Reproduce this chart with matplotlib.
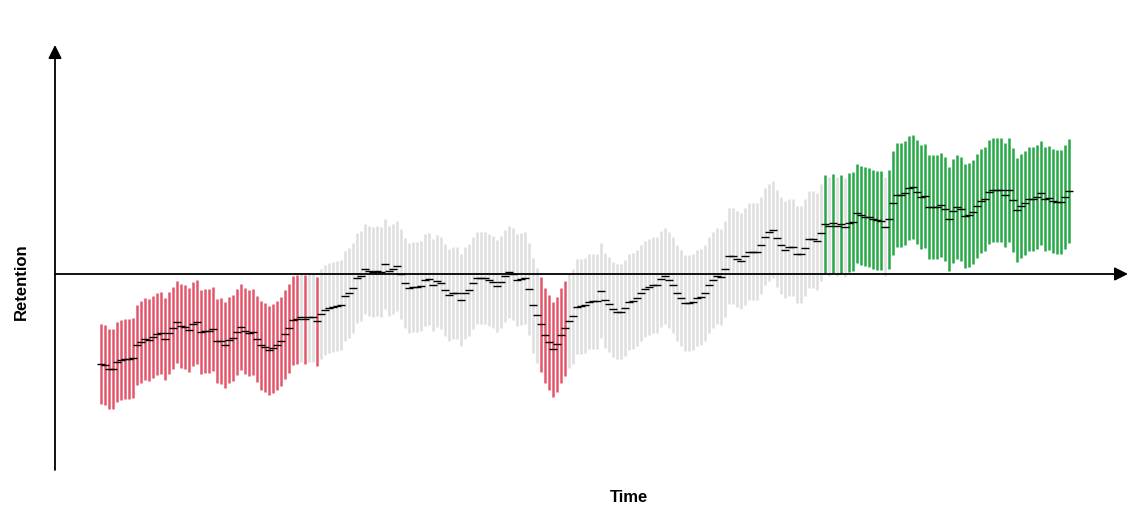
import numpy as np
import matplotlib
matplotlib.use('Agg')
import matplotlib.pyplot as plt

plt.rcParams['font.family'] = ['Liberation Sans', 'DejaVu Sans']

########## Data (one value per period, arbitrary units)

# mean retention of each period
retention_mean = [
    -90, -91, -95, -95, -88, -86, -85, -85, -84, -71,
    -68, -65, -66, -63, -60, -59, -65, -59, -54, -48,
    -52, -53, -56, -50, -48, -58, -57, -57, -55, -67,
    -67, -71, -66, -64, -58, -53, -57, -59, -58, -65,
    -71, -73, -76, -74, -71, -67, -60, -54, -46, -45.3,
    -43, -45, -43, -43, -47,
    -40, -36, -33.7, -33.3, -32, -31, -22, -19.3, -14.3, -4.3,
    -2, 4.7, 3.3, 2.3, 3.3, 2.3, 9.7, 3.3, 4.7, 8,
    -0.3, -9.3, -13.7, -12.7, -12.7, -12, -6, -5.3, -11, -7,
    -9.3, -16, -21, -19.3, -18.7, -26, -19.3, -16, -9.3, -4.3,
    -3.7, -4.3, -6, -7.7, -12, -7.7, -2, 2.3, 0, -6,
    -5.3, -4.3, -15.3,
    -31, -41, -50, -61, -68, -75, -70, -61, -54.3, -46.7,
    -42, -32.7, -32, -31, -27.7, -27, -27, -16.7, -26, -30,
    -35.3, -37.7, -37.7, -34.3, -27.7, -27, -24.3, -19.3, -15.3, -12.7,
    -11, -11, -5.3, -2, -6, -11, -18.7, -23.7, -29.3, -28.7,
    -27.7, -23.7, -23.3, -18.7, -11, -6, -2, -3.3, 4.7, 18,
    18, 14.7, 13.3, 18, 22.3, 22.3, 22.3, 29, 37.3, 42,
    44.5, 35.7, 29, 24.5, 26.7, 27, 20, 19.7, 26.5, 34.7,
    35, 33, 41.3,
    50, 48, 51, 48, 50, 46.7, 51.5, 52.3, 60.7, 59,
    57.3, 56.7, 54.7, 54, 53.3, 47.3, 54.7, 70.7, 79, 79,
    80.7, 85.7, 87, 82.3, 77.3, 78, 66.7, 66.7, 66.7, 69,
    64.7, 54.7, 63.3, 66.7, 64.7, 58, 59, 62.3, 68, 73.3,
    74.7, 82.3, 84, 84, 84, 79, 84, 74, 64, 68,
    70.7, 74.7, 74.7, 76.7, 81.3, 74.7, 75.7, 73.3, 72.3, 72.3,
    76.7, 83.3,
]

# half length of the error bar of each period
retention_err = [
    40, 40, 40, 40, 40, 40, 40, 40, 40, 40,
    41, 41, 41, 41, 41, 41, 41, 41, 41, 41,
    42, 42, 42, 42, 42, 42, 42, 42, 42, 42,
    43, 43, 43, 43, 43, 43, 43, 43, 43, 43,
    44.5, 44.5, 44.5, 44.5, 44.5, 44.5, 44.5, 44.5, 44.5, 44.5,
    44.5, 44.5, 44.5, 44.5, 44.5,
    45, 45, 45, 45, 45, 45, 45, 45, 45, 45,
    45, 45, 45, 45, 45, 45, 45, 45, 45, 45,
    45, 45, 45, 45, 45, 45,
    46, 46, 46, 46, 46, 46, 46, 46, 46, 46,
    46, 46, 46, 46, 46, 46, 46, 46, 46, 46,
    46, 46, 46, 46, 46, 46, 46,
    47.5, 47.5, 47.5, 47.5, 47.5, 47.5, 47.5, 47.5, 47.5, 47.5,
    47.5, 47.5, 47.5, 47.5, 47.5, 47.5, 47.5, 47.5, 47.5, 47.5,
    47.5, 47.5, 47.5,
    48, 48, 48, 48, 48, 48, 48, 48, 48, 48,
    48, 48, 48, 48, 48, 48, 48, 48, 48, 48,
    48, 48, 48, 48, 48, 48, 48, 48, 48, 48,
    48.5, 48.5, 48.5, 48.5, 48.5, 48.5, 48.5, 48.5, 48.5, 48.5,
    48.5, 48.5, 48.5, 48.5, 48.5, 48.5, 48.5, 48.5, 48.5, 48.5,
    49.5, 49.5, 49.5, 49.5, 49.5, 49.5, 49.5, 49.5, 49.5, 49.5,
    49.5, 49.5, 49.5, 49.5, 49.5, 49.5, 49.5,
    52, 52, 52, 52, 52, 52, 52, 52, 52, 52,
    52, 52, 52, 52, 52, 52, 52, 52, 52, 52,
    52, 52, 52, 52, 52, 52, 52, 52, 52, 52,
    52, 52, 52, 52, 52, 52, 52, 52, 52, 52,
    52, 52, 52, 52, 52,
]

x_label = 'Time'
y_label = 'Retention'

########## Plot

mean = np.array(retention_mean)
err = np.array(retention_err)
t = np.arange(len(mean))
low = mean - err
high = mean + err

# red : whole interval below zero, green : whole interval above zero
colors = np.where(high < 0, '#e4566c', np.where(low > 0, '#27a846', '#dedede'))

fig = plt.figure(figsize=(11.46, 5.28), dpi=100)
ax = fig.add_axes([55 / 1146, 58 / 528, 1073 / 1146, 425 / 528])
ax.set_xlim(-11.4, 256.8)
ax.set_ylim(-196, 229)
ax.axis('off')

ax.vlines(t, low, high, colors=colors, lw=1.8, zorder=1)
ax.plot(t, mean, ls='none', marker='_', ms=5.5, mew=1.0, color='black', zorder=3)

# axes drawn as arrows
arrow = dict(arrowstyle='-|>', color='black', lw=1.3, mutation_scale=20, shrinkA=0, shrinkB=0)
ax.annotate('', xy=(0, 1), xytext=(0, 0), xycoords='axes fraction', arrowprops=arrow, zorder=2)
ax.annotate('', xy=(1, 0), xytext=(0, 0), xycoords=('axes fraction', 'data'), arrowprops=arrow, zorder=2)

fig.text(21 / 1146, 1 - 282 / 528, y_label, rotation=90, ha='center', va='center',
         fontsize=12, fontweight='bold')
fig.text(629 / 1146, 1 - 497 / 528, x_label, ha='center', va='center',
         fontsize=12, fontweight='bold')

fig.savefig('out.png', dpi=100)
